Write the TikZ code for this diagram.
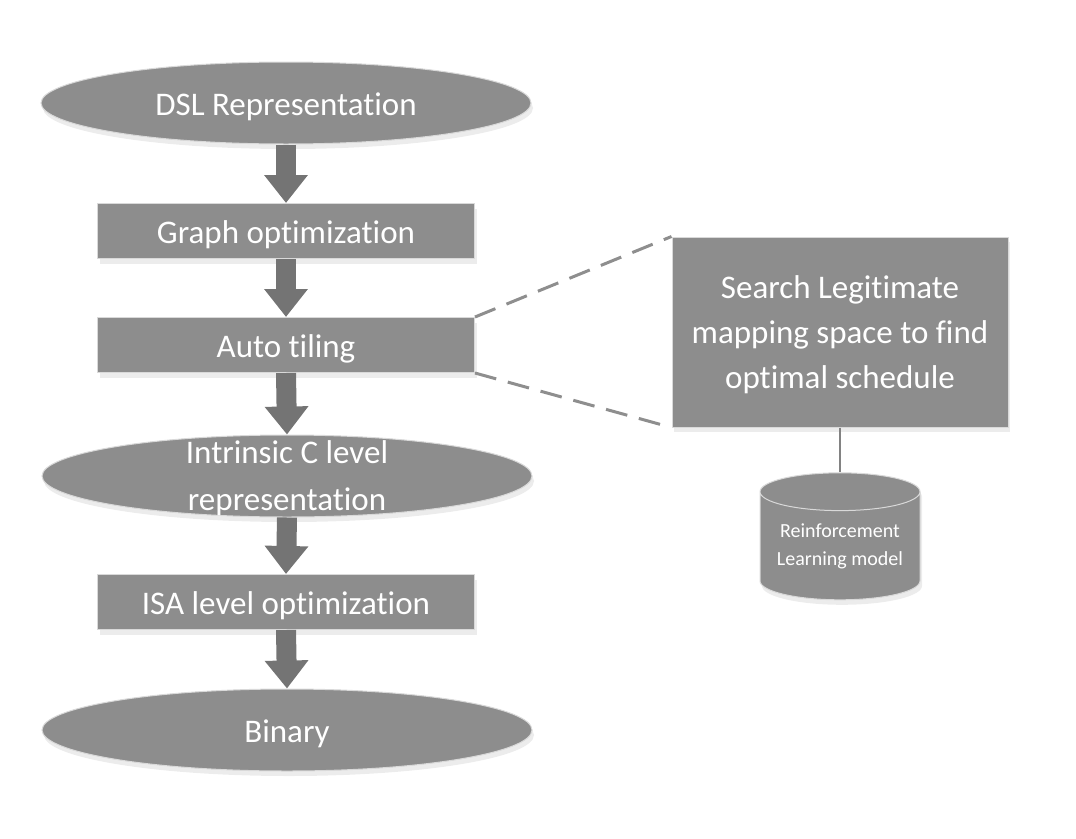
\documentclass[tikz,border=0pt]{standalone}
\usepackage{fontspec}
\setmainfont{Carlito}[Ligatures=NoCommon]
\usetikzlibrary{shapes.geometric,arrows.meta,shadows}
\definecolor{boxgray}{HTML}{8D8D8D}
\definecolor{arrowgray}{HTML}{747474}
\definecolor{dashgray}{HTML}{8E8E8E}
\begin{document}
\begin{tikzpicture}[x=1pt, y=-1pt,
  stage/.style={fill=boxgray, draw=gray!30, line width=1pt, text=white, inner sep=0pt,
    font=\fontsize{33}{45}\selectfont,
    drop shadow={shadow xshift=2pt, shadow yshift=-5pt, opacity=0.15}},
  stagebox/.style={stage, rectangle, minimum width=377pt, minimum height=55pt, text height=27pt, text depth=3pt},
  stageoval/.style={stage, ellipse, minimum width=490pt, minimum height=82pt, text height=27pt, text depth=3pt},
  flow/.style={arrowgray, line width=20pt, -{Triangle[width=42pt,length=28pt]}},
  zoomline/.style={dashgray, line width=3pt, dash pattern=on 22pt off 12pt}]
\useasboundingbox (0,0) rectangle (1076,838);

% Compilation flow
\node[stageoval] (dsl) at (286,103) {DSL Representation};
\node[stagebox] (graph) at (286,231) {Graph optimization};
\node[stagebox] (tiling) at (286,345) {Auto tiling};
\node[stageoval, label={[text=white, align=center, font=\fontsize{33}{47}\selectfont, yshift=-2pt]center:Intrinsic C level\\representation}] (intrinsic) at (287,476) {};
\node[stagebox] (isa) at (286,602) {ISA level optimization};
\node[stageoval] (binary) at (287,730) {Binary};

\draw[flow] (dsl.south) -- (graph.north);
\draw[flow] (graph.south) -- (tiling.north);
\draw[flow] (tiling.south) -- (intrinsic.north);
\draw[flow] (intrinsic.south) -- (isa.north);
\draw[flow] (isa.south) -- (binary.north);

% Auto tiling detail
\node[stage, rectangle, align=center, minimum width=336pt, minimum height=190pt, text depth=0pt] (search) at (840,332)
  {Search Legitimate\\mapping space to find\\optimal schedule};
\node[stage, cylinder, shape border rotate=90, aspect=0.3, align=center,
  minimum width=160pt, minimum height=127pt, font=\fontsize{20}{28}\selectfont] (rlmodel) at (840,546)
  {Reinforcement\\Learning model};

\draw[zoomline] (tiling.north east) -- (search.north west);
\draw[zoomline] (tiling.south east) -- (search.south west);
\draw[arrowgray!90, line width=2pt] (search.south) -- (rlmodel.north);
\end{tikzpicture}
\end{document}
